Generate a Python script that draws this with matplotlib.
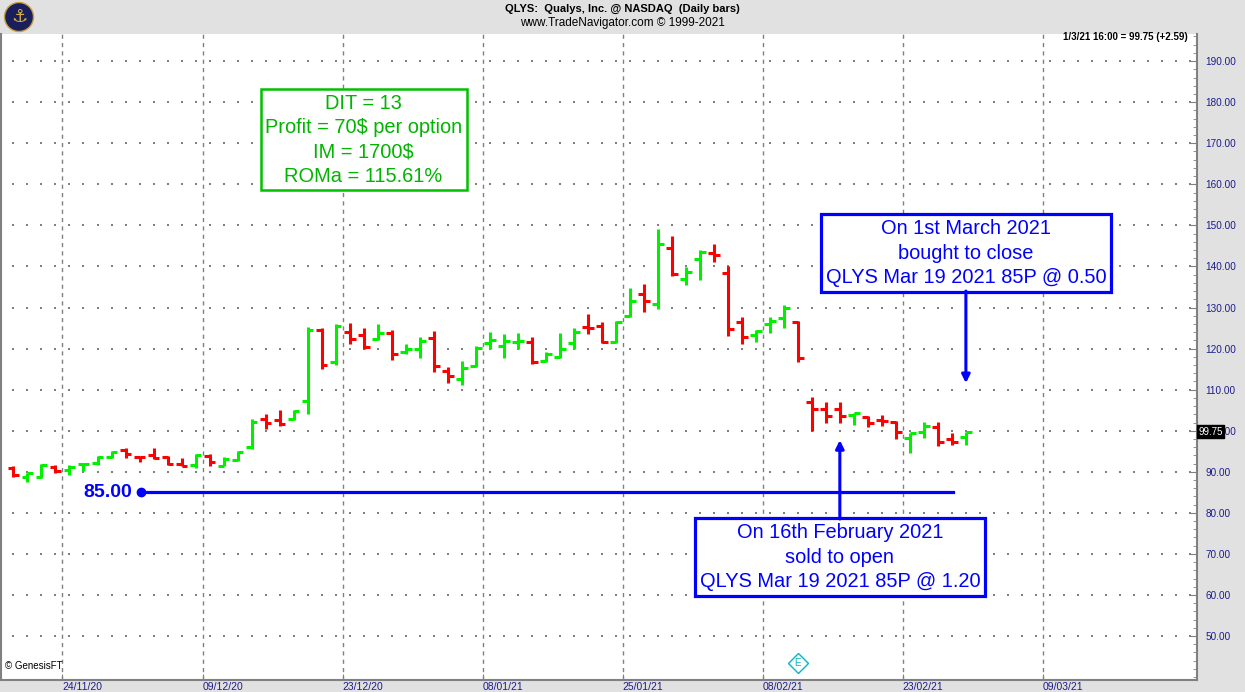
import matplotlib
matplotlib.use('Agg')
import matplotlib.pyplot as plt
import numpy as np
import pandas as pd
from matplotlib.patches import Circle

plt.rcParams['font.family'] = ['Liberation Sans', 'DejaVu Sans']

# daily bars QLYS, 18/11/20 .. 01/03/21
holidays = ['2020-11-26', '2020-12-25', '2021-01-01', '2021-01-18', '2021-02-15']
opens = [90.9, 88.8, 88.8, 91.1, 90.5, 91.8, 92.1, 93.6, 95.2, 93.7,
         94.1, 93.6, 91.9, 91.7, 93.8, 91.5, 92.9, 96.0, 102.8, 102.6,
         102.8, 107.2, 124.6, 116.7, 124.1, 123.4, 122.4, 123.9, 119.2, 120.0,
         122.5, 114.5, 112.7, 115.8, 121.4, 120.7, 121.7, 121.5, 117.0, 118.0,
         121.3, 125.3, 125.6, 121.7, 128.0, 133.3, 130.8, 144.6, 136.9, 141.8,
         143.3, 138.4, 126.4, 123.2, 125.9, 127.4, 126.4, 107.0, 105.4, 105.2,
         103.8, 103.4, 102.5, 102.2, 98.3, 99.8, 101.0, 98.1, 98.5]
highs = [91.5, 89.8, 91.9, 91.7, 91.7, 92.1, 93.8, 95.0, 95.8, 93.8,
         95.8, 93.8, 93.3, 94.4, 94.4, 93.6, 95.0, 102.9, 104.1, 105.0,
         105.0, 125.3, 124.9, 126.1, 126.3, 124.9, 125.9, 124.6, 121.2, 122.7,
         124.3, 115.6, 116.9, 120.7, 124.0, 123.5, 123.7, 122.9, 119.2, 123.7,
         124.9, 128.4, 126.4, 126.8, 134.7, 135.7, 149.1, 147.3, 139.8, 143.9,
         145.4, 140.2, 127.6, 124.6, 127.6, 130.5, 126.6, 108.1, 106.9, 107.0,
         104.4, 103.6, 103.9, 102.4, 99.5, 102.2, 102.2, 99.5, 99.8]
lows = [88.8, 87.5, 88.6, 89.8, 89.3, 90.2, 91.7, 93.3, 93.3, 92.3,
        93.0, 91.7, 91.3, 91.0, 91.5, 91.3, 92.6, 95.6, 100.5, 101.1,
        102.5, 104.0, 115.1, 115.9, 121.2, 120.0, 122.0, 117.2, 118.8, 117.8,
        114.2, 111.7, 111.2, 115.4, 120.0, 117.6, 119.9, 116.2, 116.8, 117.6,
        119.9, 123.5, 121.4, 121.4, 127.8, 128.9, 129.7, 137.7, 135.5, 136.6,
        141.2, 123.1, 121.1, 121.7, 123.9, 125.1, 116.8, 99.9, 102.0, 102.0,
        101.4, 101.0, 101.2, 98.1, 94.5, 98.3, 96.3, 96.5, 96.5]
closes = [89.2, 89.7, 91.7, 90.2, 91.1, 92.0, 93.6, 94.8, 94.4, 93.5,
          93.3, 91.9, 91.5, 94.1, 92.3, 93.2, 94.9, 102.1, 101.9, 101.6,
          104.8, 124.6, 115.9, 125.5, 122.4, 120.4, 123.7, 118.8, 119.8, 121.9,
          115.8, 113.3, 115.3, 120.2, 122.2, 121.9, 121.8, 116.8, 118.6, 120.0,
          124.1, 125.0, 121.7, 126.4, 131.5, 131.7, 145.4, 138.1, 138.6, 143.6,
          142.7, 124.7, 122.9, 124.4, 126.8, 129.8, 117.6, 105.2, 103.6, 103.6,
          104.2, 102.0, 102.3, 99.8, 99.4, 101.2, 97.3, 97.16, 99.75]

tick_dates = ['2020-11-24', '2020-12-09', '2020-12-23', '2021-01-08',
              '2021-01-25', '2021-02-08', '2021-02-23', '2021-03-09']
tick_labels = ['24/11/20', '09/12/20', '23/12/20', '08/01/21',
               '25/01/21', '08/02/21', '23/02/21', '09/03/21']
price_levels = list(range(50, 191, 10))

strike = 85.00
sold_date = '2021-02-16'
bought_date = '2021-03-01'
earnings_date = '2021-02-10'

days = pd.bdate_range('2020-11-18', '2021-03-12', freq='C', holidays=holidays)
day_idx = {d.strftime('%Y-%m-%d'): i for i, d in enumerate(days)}

GREEN_BAR = '#00f000'
RED_BAR = '#ff0000'
BLUE = '#0000ff'
NAVY = '#1c1c8c'
FS = 14.4

fig = plt.figure(figsize=(12.45, 6.92), dpi=100, facecolor='#e1e1e1')
ax = fig.add_axes([1 / 1245, 12 / 692, 1196 / 1245, 646 / 692])
ax.set_facecolor('white')
ax.set_xlim(-0.89, 84.5)
ax.set_ylim(39.3, 196.6)

# grid: dotted price levels, dashed date lines
xs = np.arange(0, 85)
for lvl in price_levels:
    ax.scatter(xs, np.full(len(xs), lvl), s=1.2, marker='s', color='#808080',
               linewidths=0, zorder=1)
tick_pos = [day_idx[d] - 0.5 for d in tick_dates]
for tp in tick_pos:
    ax.axvline(tp, color='#808080', lw=1, ls=(0, (3, 3)), zorder=1)

# OHLC bars
n = len(closes)
x = np.arange(n)
colors = [GREEN_BAR if c >= o else RED_BAR for o, c in zip(opens, closes)]
ax.vlines(x, lows, highs, colors=colors, lw=2.2, zorder=3)
ax.hlines(opens, x - 0.42, x, colors=colors, lw=2.2, zorder=3)
ax.hlines(closes, x, x + 0.42, colors=colors, lw=2.2, zorder=3)

# strike line
x0 = 9.1
x1 = day_idx['2021-02-26'] + 0.1
ax.plot([x0, x1], [strike, strike], color=BLUE, lw=2.3, zorder=4)
ax.plot([x0], [strike], 'o', color=BLUE, ms=6, zorder=4)
ax.annotate(f'{strike:.2f}', (x0, strike), xytext=(-6, 0), textcoords='offset points',
            ha='right', va='center', color=BLUE, fontsize=14, fontweight='bold')

# info box
ax.text(25.0, 170.8, 'DIT = 13\nProfit = 70$ per option\nIM = 1700$\nROMa = 115.61%',
        ha='center', va='center', fontsize=FS, color='#00b400', linespacing=1.36,
        bbox=dict(boxstyle='square,pad=0.22', fc='white', ec='#00c000', lw=1.8),
        zorder=5)

# trade boxes + arrows
bx = day_idx[bought_date]
ax.text(bx, 143.25, 'On 1st March 2021\nbought to close\nQLYS Mar 19 2021 85P @ 0.50',
        ha='center', va='center', fontsize=FS, color=BLUE, linespacing=1.36,
        bbox=dict(boxstyle='square,pad=0.25', fc='white', ec=BLUE, lw=2.3), zorder=5)
ax.annotate('', xy=(bx, 111.6), xytext=(bx, 134.0),
            arrowprops=dict(arrowstyle='-|>', color=BLUE, lw=2.2, mutation_scale=12,
                            shrinkA=0, shrinkB=0), zorder=5)

sx = day_idx[sold_date]
ax.text(sx, 69.2, 'On 16th February 2021\nsold to open\nQLYS Mar 19 2021 85P @ 1.20',
        ha='center', va='center', fontsize=FS, color=BLUE, linespacing=1.36,
        bbox=dict(boxstyle='square,pad=0.25', fc='white', ec=BLUE, lw=2.3), zorder=5)
ax.annotate('', xy=(sx, 97.7), xytext=(sx, 78.5),
            arrowprops=dict(arrowstyle='-|>', color=BLUE, lw=2.2, mutation_scale=12,
                            shrinkA=0, shrinkB=0), zorder=5)

# earnings marker
ex = day_idx[earnings_date]
ax.plot([ex], [43.4], marker='D', ms=10, mfc='white', mec='#00b8c8', mew=1, zorder=5)
ax.text(ex, 43.4, 'E', ha='center', va='center', fontsize=7, color='#00b8c8', zorder=6)

# axes styling
for side in ['left', 'right', 'bottom']:
    ax.spines[side].set_color('#808080')
    ax.spines[side].set_linewidth(1.5)
ax.spines['top'].set_visible(False)

ax.yaxis.tick_right()
ax.set_yticks(price_levels)
ax.set_yticklabels([f'{v:.2f}' for v in price_levels])
ax.set_yticks(np.arange(40, 197, 2), minor=True)
ax.tick_params(axis='y', which='major', direction='in', length=6, color='#808080',
               labelsize=7.2, labelcolor=NAVY, pad=6)
ax.tick_params(axis='y', which='minor', direction='in', length=3, color='#808080')
for lab in ax.get_yticklabels():
    lab.set_horizontalalignment('left')

ax.set_xticks(tick_pos)
ax.set_xticklabels(tick_labels)
ax.tick_params(axis='x', direction='in', length=4, color='#808080', labelsize=7.5,
               labelcolor=NAVY, pad=1.2)
for lab in ax.get_xticklabels():
    lab.set_horizontalalignment('left')

# last price flag on the axis
ax.annotate(f'{closes[-1]:.2f}', (1.0, closes[-1]), xycoords=('axes fraction', 'data'),
            xytext=(1, 0), textcoords='offset points', ha='left', va='center',
            fontsize=7, color='white', annotation_clip=False, zorder=10,
            bbox=dict(boxstyle='square,pad=0.15', fc='black', ec='black'))

# header and small texts
fig.text(622 / 1245, 1 - 9 / 692, 'QLYS:  Qualys, Inc. @ NASDAQ  (Daily bars)',
         ha='center', va='center', fontsize=8, fontweight='bold')
fig.text(622 / 1245, 1 - 23 / 692, 'www.TradeNavigator.com \u00a9 1999-2021',
         ha='center', va='center', fontsize=8.5)
chg = closes[-1] - closes[-2]
fig.text(1188 / 1245, 1 - 37 / 692, f'1/3/21 16:00 = {closes[-1]:.2f} (+{chg:.2f})',
         ha='right', va='center', fontsize=7, fontweight='bold')
fig.text(5 / 1245, 1 - 666 / 692, '\u00a9 GenesisFT', ha='left', va='center', fontsize=7)

logo = Circle((0.19, 6.92 - 0.17), 0.145, transform=fig.dpi_scale_trans,
              fc='#1a1f5c', ec='#c8a040', lw=1)
fig.patches.append(logo)
fig.text(19 / 1245, 1 - 17 / 692, '\u2693', ha='center', va='center', fontsize=13,
         color='#d8b040', family='DejaVu Sans')

fig.savefig('out.png', dpi=100, facecolor=fig.get_facecolor())
